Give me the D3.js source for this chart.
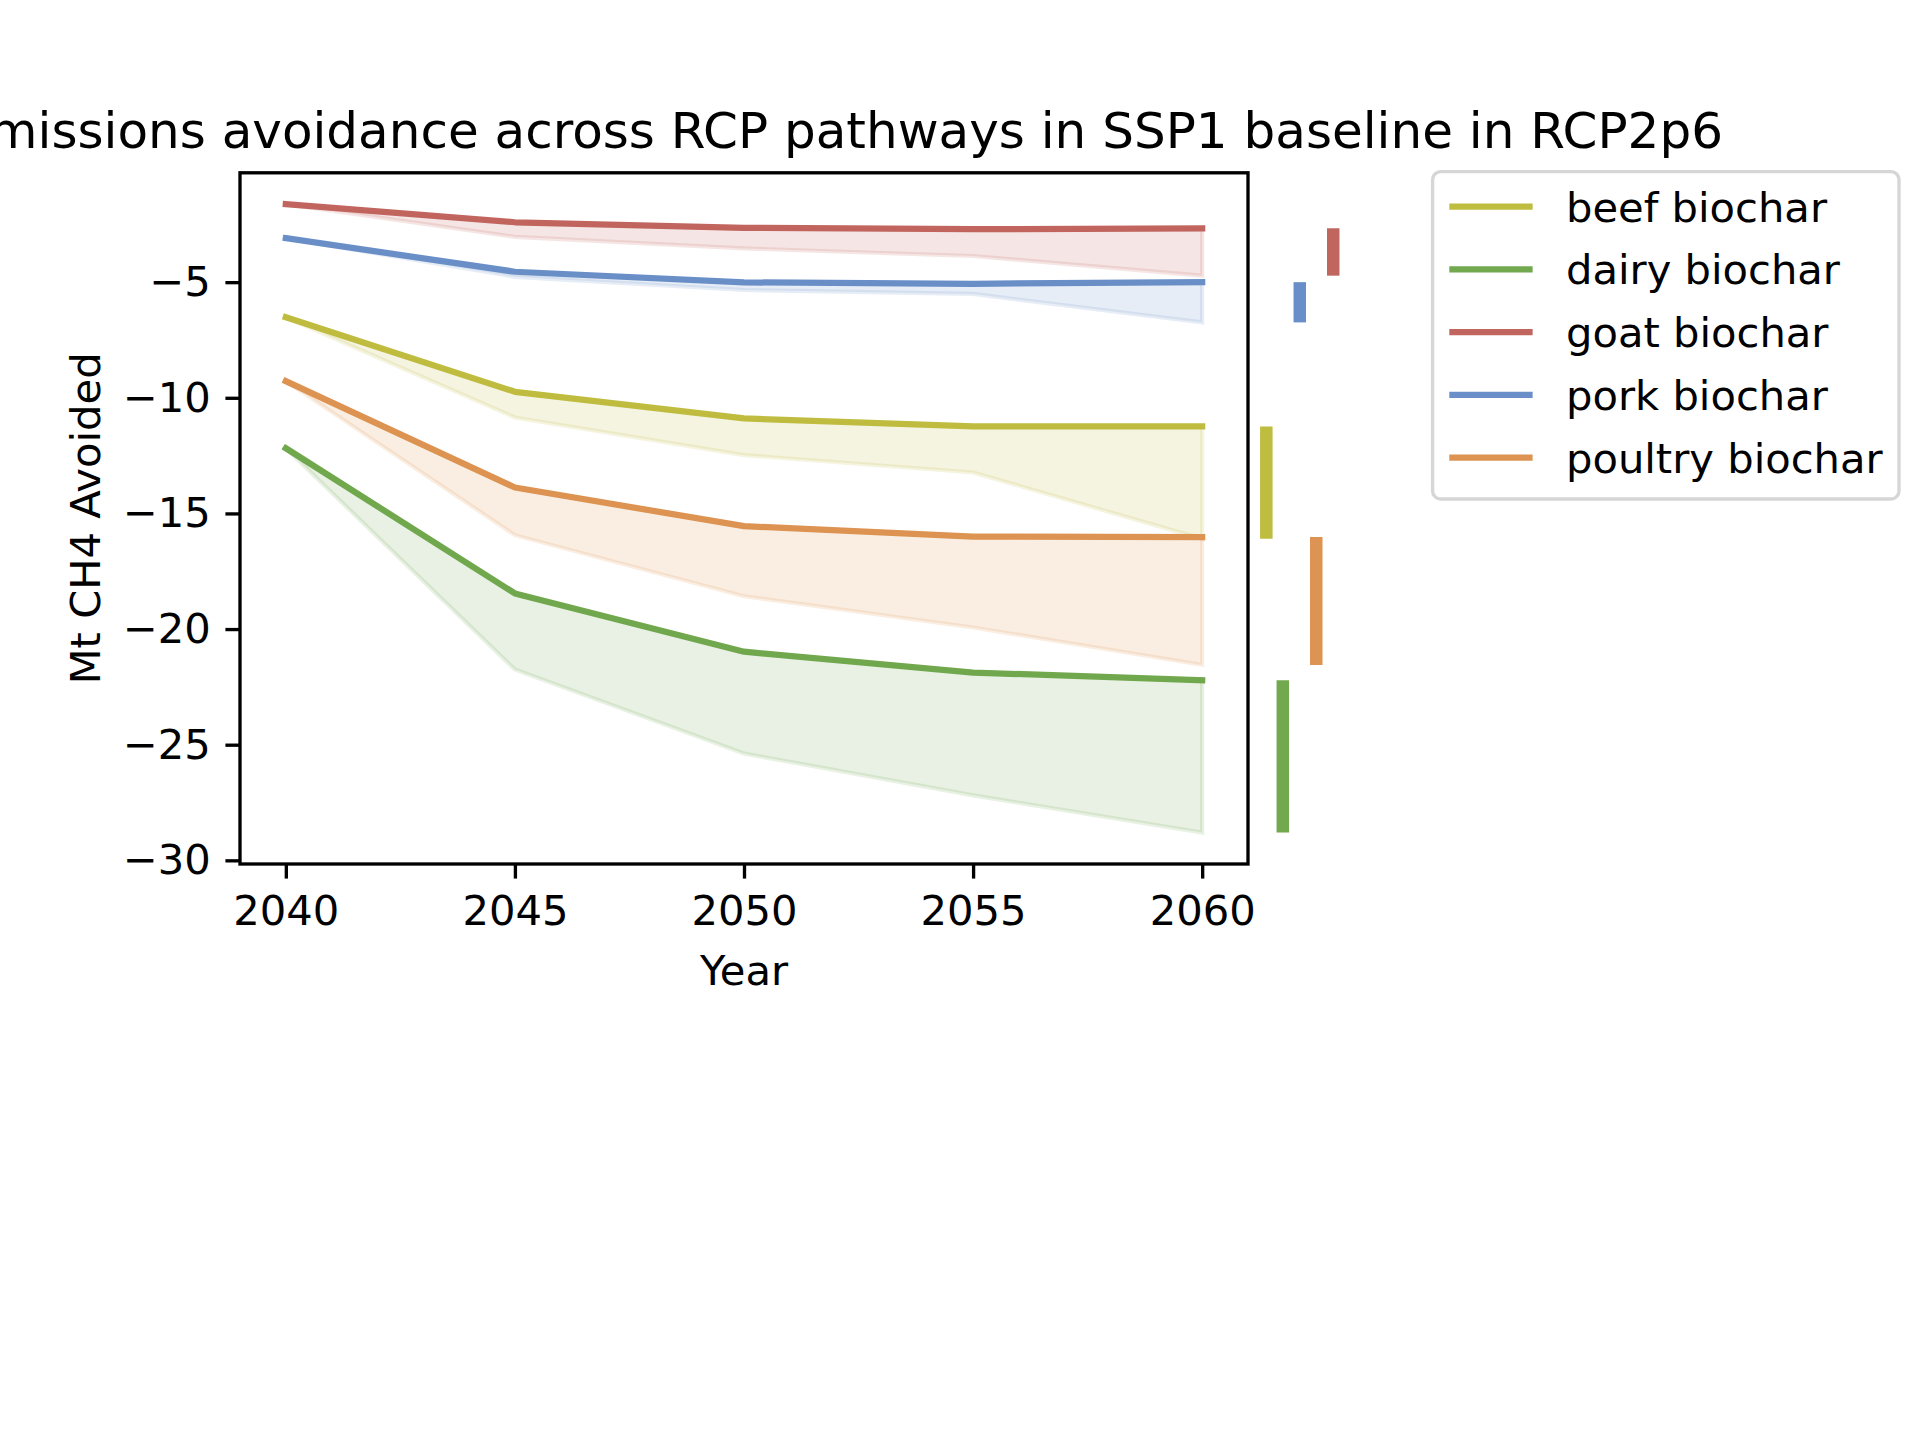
<!DOCTYPE html>
<html>
<head>
<meta charset="utf-8">
<script src="https://cdn.jsdelivr.net/npm/d3@7"></script>
<style>
  body { margin: 0; background: white; }
  text { font-family: "DejaVu Sans", sans-serif; fill: black; }
</style>
</head>
<body>
<div id="VizBox"></div>
<script>
// data
var years = [2040, 2045, 2050, 2055, 2060];
var names = ["beef biochar", "dairy biochar", "goat biochar", "pork biochar", "poultry biochar"];
var colors = ["#bfbd40", "#72a84e", "#c1665f", "#6a8fc8", "#dd9352"];

var beefMain = [-6.52, -9.74, -10.89, -11.24, -11.24];
var beefLow = [-6.52, -10.85, -12.48, -13.23, -16.1];
var dairyMain = [-12.18, -18.46, -20.98, -21.88, -22.21];
var dairyLow = [-12.18, -21.75, -25.38, -27.19, -28.8];
var goatMain = [-1.63, -2.41, -2.65, -2.71, -2.67];
var goatLow = [-1.63, -3.04, -3.54, -3.87, -4.72];
var porkMain = [-3.1, -4.55, -5.01, -5.07, -5.0];
var porkLow = [-3.1, -4.77, -5.34, -5.51, -6.74];
var poultryMain = [-9.28, -13.88, -15.55, -16.0, -16.02];
var poultryLow = [-9.28, -15.94, -18.58, -19.93, -21.55];

// x position (in years) of the 2060 range bars, outside the axes
var rangeBarX = [2061.40, 2061.76, 2062.86, 2062.13, 2062.49];

var mains = [beefMain, dairyMain, goatMain, porkMain, poultryMain];
var lows = [beefLow, dairyLow, goatLow, porkLow, poultryLow];

var series = names.map(function(n, i) {
  return {
    name: n, color: colors[i], barX: rangeBarX[i],
    pts: years.map(function(y, j) { return {year: y, main: mains[i][j], low: lows[i][j]}; })
  };
});

// figure 6.4x4.8in @300dpi
var W = 1920, H = 1440;
var pt = 300 / 72;
var margin = {top: 172.8, right: 1920 - 1248, bottom: 1440 - 864, left: 240};
var width = W - margin.left - margin.right;
var height = H - margin.top - margin.bottom;
var fs = 10 * pt;

var svg = d3.select("#VizBox")
  .append("svg")
    .attr("width", W)
    .attr("height", H);

var g = svg.append("g")
    .attr("transform", "translate(" + margin.left + "," + margin.top + ")");

// scales with matplotlib-like 5% margins
var x = d3.scaleLinear()
  .domain([2039, 2061])
  .range([0, width]);

var allVals = d3.merge(mains.concat(lows));
var ext = d3.extent(allVals);
var pad = (ext[1] - ext[0]) * 0.05;
var y = d3.scaleLinear()
  .domain([ext[0] - pad, ext[1] + pad])
  .range([height, 0]);

// bands and lines
var area = d3.area()
  .x(function(d) { return x(d.year); })
  .y0(function(d) { return y(d.low); })
  .y1(function(d) { return y(d.main); });

var line = d3.line()
  .x(function(d) { return x(d.year); })
  .y(function(d) { return y(d.main); });

series.forEach(function(s) {
  g.append("path")
    .attr("d", line(s.pts))
    .attr("fill", "none")
    .attr("stroke", s.color)
    .attr("stroke-width", 1.5 * pt)
    .attr("stroke-linecap", "square")
    .attr("stroke-linejoin", "round");

  g.append("path")
    .attr("d", area(s.pts))
    .attr("fill", s.color)
    .attr("fill-opacity", 0.16)
    .attr("stroke", s.color)
    .attr("stroke-opacity", 0.16)
    .attr("stroke-width", 1 * pt);
});

// range bars for the last year, drawn outside the axes
var last = years.length - 1;
g.selectAll(".rangebar")
  .data(series)
  .enter()
  .append("line")
    .attr("class", "rangebar")
    .attr("x1", function(d) { return x(d.barX); })
    .attr("x2", function(d) { return x(d.barX); })
    .attr("y1", function(d) { return y(d.pts[last].main); })
    .attr("y2", function(d) { return y(d.pts[last].low); })
    .attr("stroke", function(d) { return d.color; })
    .attr("stroke-width", 3 * pt);

// axes
var xAxis = g.append("g")
  .attr("transform", "translate(0," + height + ")")
  .call(d3.axisBottom(x).tickValues(years).tickFormat(d3.format("d"))
    .tickSize(3.5 * pt).tickPadding(3.5 * pt));

var yAxis = g.append("g")
  .call(d3.axisLeft(y).ticks(6).tickSize(3.5 * pt).tickPadding(3.5 * pt));

[xAxis, yAxis].forEach(function(a) {
  a.select(".domain").remove();
  a.selectAll("line").attr("stroke", "black").attr("stroke-width", 0.8 * pt);
  a.selectAll("text")
    .attr("font-size", fs)
    .attr("font-family", "DejaVu Sans")
    .attr("fill", "black");
});
xAxis.selectAll("text").attr("dy", "0.76em");

// spines
g.append("rect")
  .attr("x", 0)
  .attr("y", 0)
  .attr("width", width)
  .attr("height", height)
  .attr("fill", "none")
  .attr("stroke", "black")
  .attr("stroke-width", 0.8 * pt)
  .attr("stroke-linejoin", "miter");

// labels
g.append("text")
  .attr("x", width / 2 - 6)
  .attr("y", -6 * pt)
  .attr("text-anchor", "middle")
  .attr("font-size", 12 * pt)
  .text("Biochar emissions avoidance across RCP pathways in SSP1 baseline in RCP2p6");

g.append("text")
  .attr("x", width / 2)
  .attr("y", height + 121)
  .attr("text-anchor", "middle")
  .attr("font-size", fs)
  .text("Year");

g.append("text")
  .attr("transform", "translate(" + (100 - margin.left) + "," + (height / 2) + ") rotate(-90)")
  .attr("text-anchor", "middle")
  .attr("font-size", fs)
  .text("Mt CH4 Avoided");

// legend
var legend = svg.append("g")
  .attr("transform", "translate(1432.6,171.7)");

legend.append("rect")
  .attr("width", 466.4)
  .attr("height", 327.3)
  .attr("rx", 8)
  .attr("fill", "white")
  .attr("fill-opacity", 0.8)
  .attr("stroke", "#cccccc")
  .attr("stroke-opacity", 0.8)
  .attr("stroke-width", 0.8 * pt);

var item = legend.selectAll(".item")
  .data(series)
  .enter()
  .append("g")
    .attr("class", "item")
    .attr("transform", function(d, i) { return "translate(0," + (35 + i * 62.75) + ")"; });

item.append("line")
  .attr("x1", 16.7)
  .attr("x2", 16.7 + 2 * fs)
  .attr("stroke", function(d) { return d.color; })
  .attr("stroke-width", 1.5 * pt);

item.append("text")
  .attr("x", 16.7 + 2.8 * fs)
  .attr("y", 15)
  .attr("font-size", fs)
  .text(function(d) { return d.name; });
</script>
</body>
</html>
